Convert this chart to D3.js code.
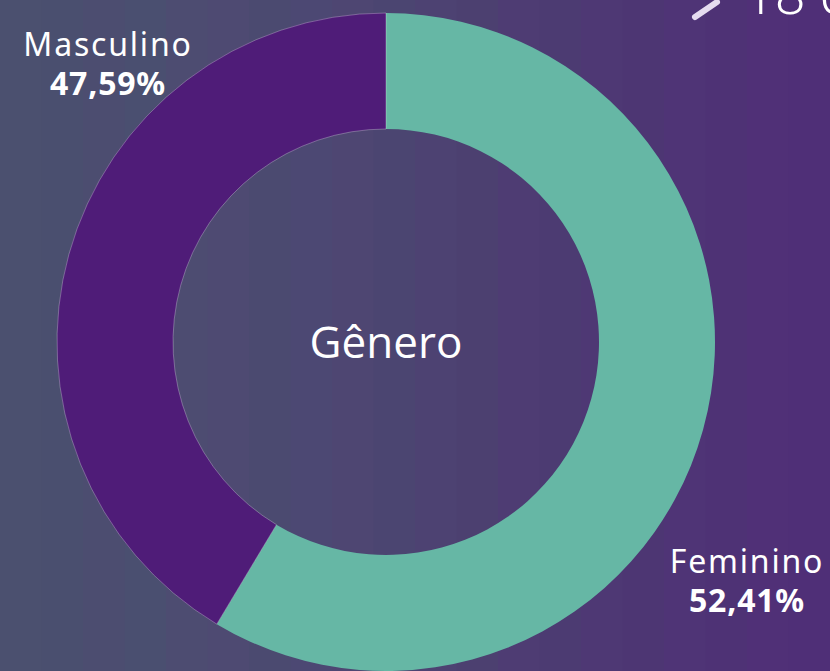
<!DOCTYPE html>
<html>
<head>
<meta charset="utf-8">
<script src="https://cdn.jsdelivr.net/npm/d3@7"></script>
<style>
  html, body { margin: 0; padding: 0; background: #4b426f; }
  svg { display: block; }
</style>
</head>
<body>
<div id="chart"></div>
<script>
// gender split, labels as printed on the graphic
var categories = ["Feminino", "Masculino"],
    percentLabels = ["52,41%", "47,59%"],
    // slice sizes as they are drawn in the graphic (the art is not to scale)
    sliceShares = [58.6, 41.4],
    centerLabel = "Gênero",
    cornerLabel = "18 e";

var width = 830,
    height = 671,
    cx = 386,
    cy = 342,
    outerR = 329,
    innerR = 213;

var color = d3.scaleOrdinal()
    .domain(categories)
    .range(["#66b7a5", "#4f1c78"]);

// background bands, left (grey-blue) to right (purple)
var bandColors = ["#4b506f", "#4a4f6f", "#4c4d70", "#4a4f70", "#4d4c71", "#4e4a72",
  "#4b4a70", "#4c4873", "#4e4672", "#4b4571", "#4d4272", "#4c4070", "#4e3c73",
  "#4c3b72", "#4e3874", "#4d3673", "#4f3476", "#4e3275", "#503077", "#4f2f77"];

var svg = d3.select("#chart").append("svg")
    .attr("width", width)
    .attr("height", height);

var bandX = d3.scaleBand()
    .domain(d3.range(bandColors.length))
    .range([0, width]);

svg.append("g")
  .selectAll("rect")
  .data(bandColors)
  .enter()
  .append("rect")
    .attr("x", function(d, i) { return bandX(i); })
    .attr("y", 0)
    .attr("width", bandX.bandwidth() + 1)
    .attr("height", height)
    .attr("fill", function(d) { return d; });

var pie = d3.pie()
    .sort(null)
    .value(function(d) { return d; });

var arc = d3.arc()
    .innerRadius(innerR)
    .outerRadius(outerR);

var donut = svg.append("g")
    .attr("transform", "translate(" + cx + "," + cy + ")");

donut.selectAll("path")
  .data(pie(sliceShares))
  .enter()
  .append("path")
    .attr("d", arc)
    .attr("fill", function(d, i) { return color(categories[i]); })
    .attr("stroke", function(d, i) { return i === 1 ? "rgba(255,255,255,0.35)" : "none"; })
    .attr("stroke-width", 0.8);

donut.append("text")
    .attr("text-anchor", "middle")
    .attr("y", 16)
    .attr("fill", "#fff")
    .style("font-family", "'Open Sans', sans-serif")
    .style("font-size", "44px")
    .text(centerLabel);

// outside labels
var labelPos = [
  { x: 747, y: 573 },
  { x: 108, y: 56 }
];

var labels = svg.append("g")
  .selectAll("g")
  .data(categories)
  .enter()
  .append("g")
    .attr("transform", function(d, i) {
      return "translate(" + labelPos[i].x + "," + labelPos[i].y + ")";
    })
    .attr("text-anchor", "middle")
    .attr("fill", "#fff")
    .style("font-family", "'Noto Sans', sans-serif");

labels.append("text")
    .style("font-size", "32px")
    .style("letter-spacing", "1.8px")
    .text(function(d) { return d; });

labels.append("text")
    .attr("y", 39)
    .style("font-size", "32px")
    .style("font-weight", "bold")
    .style("letter-spacing", "0.8px")
    .text(function(d, i) { return percentLabels[i]; });

// cut-off heading at the top right
svg.append("line")
    .attr("x1", 695).attr("y1", 17)
    .attr("x2", 717).attr("y2", 2)
    .attr("stroke", "#e6dcf0")
    .attr("stroke-width", 6)
    .attr("stroke-linecap", "round");

svg.append("text")
    .attr("x", 744)
    .attr("y", 14)
    .attr("fill", "#fff")
    .style("font-family", "'Noto Sans', sans-serif")
    .style("font-weight", 300)
    .style("font-size", "54px")
    .text(cornerLabel);
</script>
</body>
</html>
